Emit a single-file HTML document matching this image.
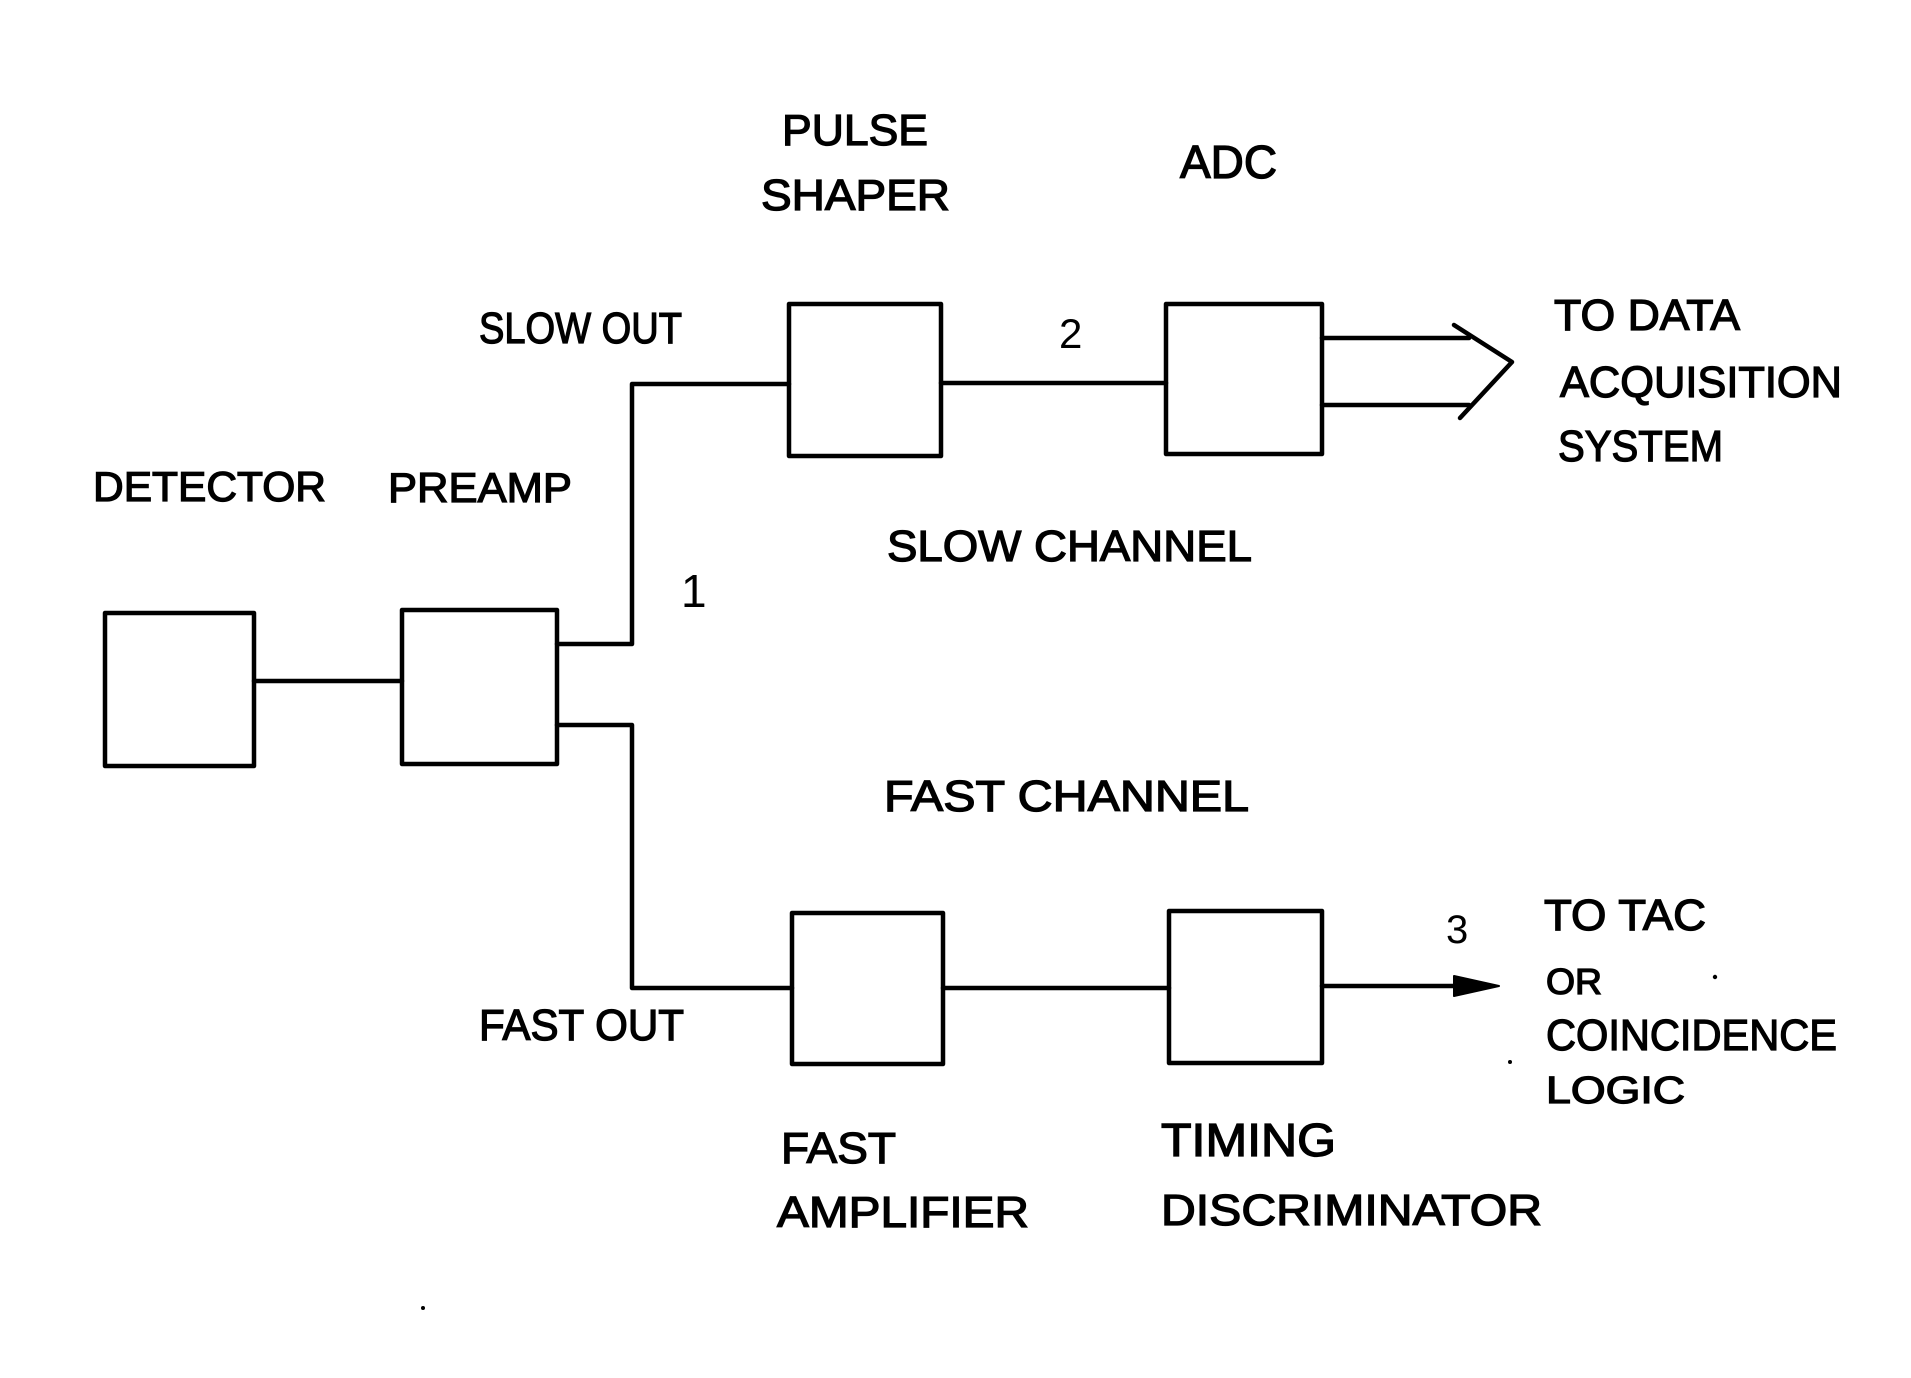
<!DOCTYPE html>
<html>
<head>
<meta charset="utf-8">
<style>
html,body{margin:0;padding:0;background:#fff;}
svg{display:block;}
text{font-family:"Liberation Sans",sans-serif;fill:#000;stroke:#000;stroke-width:1.3;}
</style>
</head>
<body>
<svg width="1911" height="1378" viewBox="0 0 1911 1378" xmlns="http://www.w3.org/2000/svg">
<rect x="0" y="0" width="1911" height="1378" fill="#fff"/>
<g fill="none" stroke="#000" stroke-width="4.5" stroke-linejoin="round" stroke-linecap="round">
  <!-- boxes -->
  <rect x="105" y="613" width="149" height="153"/>
  <rect x="402" y="610" width="155" height="154"/>
  <rect x="789" y="304" width="152" height="152"/>
  <rect x="1166" y="304" width="156" height="150"/>
  <rect x="792" y="913" width="151" height="151"/>
  <rect x="1169" y="911" width="153" height="152"/>
  <!-- connectors -->
  <line x1="254" y1="681" x2="402" y2="681"/>
  <polyline points="557,644 632,644 632,384 789,384"/>
  <line x1="941" y1="383" x2="1166" y2="383"/>
  <line x1="1322" y1="338" x2="1469" y2="338"/>
  <line x1="1322" y1="405" x2="1469" y2="405"/>
  <polyline points="1454,325 1512,362 1460,418"/>
  <polyline points="557,725 632,725 632,988 792,988"/>
  <line x1="943" y1="988" x2="1169" y2="988"/>
  <line x1="1322" y1="986" x2="1462" y2="986"/>
</g>
<polygon points="1454,976 1499,986 1454,996" fill="#000" stroke="#000" stroke-width="2" stroke-linejoin="round"/>
<!-- dots -->
<circle cx="1715" cy="977" r="2.2" fill="#000"/>
<circle cx="1510" cy="1062" r="2" fill="#000"/>
<circle cx="423" cy="1308" r="2" fill="#000"/>
<!-- labels -->
<text x="782" y="145" font-size="44" textLength="146" lengthAdjust="spacingAndGlyphs">PULSE</text>
<text x="761" y="210" font-size="44" textLength="189" lengthAdjust="spacingAndGlyphs">SHAPER</text>
<text x="1180" y="178" font-size="46" textLength="97" lengthAdjust="spacingAndGlyphs">ADC</text>
<text x="479" y="343" font-size="44" textLength="203" lengthAdjust="spacingAndGlyphs">SLOW OUT</text>
<text x="1059" y="348" font-size="42" style="stroke-width:0">2</text>
<text x="1554" y="330" font-size="44" textLength="186" lengthAdjust="spacingAndGlyphs">TO DATA</text>
<text x="1560" y="397" font-size="44" textLength="282" lengthAdjust="spacingAndGlyphs">ACQUISITION</text>
<text x="1558" y="461" font-size="44" textLength="165" lengthAdjust="spacingAndGlyphs">SYSTEM</text>
<text x="93" y="501" font-size="42" textLength="233" lengthAdjust="spacingAndGlyphs">DETECTOR</text>
<text x="388" y="502" font-size="42" textLength="184" lengthAdjust="spacingAndGlyphs">PREAMP</text>
<text x="887" y="561" font-size="44" textLength="365" lengthAdjust="spacingAndGlyphs">SLOW CHANNEL</text>
<text x="681" y="607" font-size="46" style="stroke-width:0">1</text>
<text x="884" y="811" font-size="44" textLength="365" lengthAdjust="spacingAndGlyphs">FAST CHANNEL</text>
<text x="1446" y="943" font-size="40" style="stroke-width:0">3</text>
<text x="1544" y="930" font-size="44" textLength="162" lengthAdjust="spacingAndGlyphs">TO TAC</text>
<text x="1546" y="994" font-size="36" textLength="56" lengthAdjust="spacingAndGlyphs">OR</text>
<text x="1546" y="1050" font-size="44" textLength="291" lengthAdjust="spacingAndGlyphs">COINCIDENCE</text>
<text x="1546" y="1103" font-size="38" textLength="139" lengthAdjust="spacingAndGlyphs">LOGIC</text>
<text x="479" y="1040" font-size="44" textLength="205" lengthAdjust="spacingAndGlyphs">FAST OUT</text>
<text x="781" y="1163" font-size="44" textLength="115" lengthAdjust="spacingAndGlyphs">FAST</text>
<text x="777" y="1227" font-size="44" textLength="252" lengthAdjust="spacingAndGlyphs">AMPLIFIER</text>
<text x="1161" y="1156" font-size="46" textLength="175" lengthAdjust="spacingAndGlyphs">TIMING</text>
<text x="1161" y="1225" font-size="44" textLength="381" lengthAdjust="spacingAndGlyphs">DISCRIMINATOR</text>
</svg>
</body>
</html>
